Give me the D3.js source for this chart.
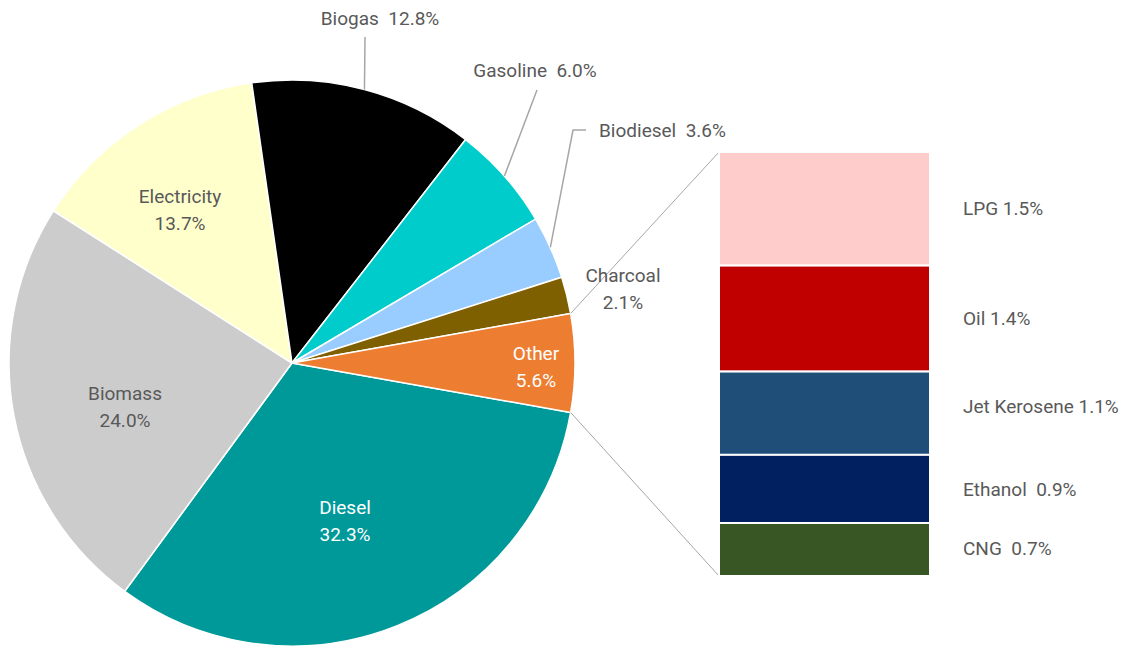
<!DOCTYPE html>
<html>
<head>
<meta charset="utf-8">
<script src="https://cdn.jsdelivr.net/npm/d3@7"></script>
<style>
  html, body { margin: 0; padding: 0; background: #ffffff; }
  svg { display: block; font-family: Roboto, "Liberation Sans", sans-serif; }
  text { white-space: pre; }
</style>
</head>
<body>
<svg id="chart" width="1129" height="647"></svg>
<script>
// Main pie: fuel shares (%), clockwise starting with Diesel
const pieNames  = ["Diesel", "Biomass", "Electricity", "Biogas", "Gasoline", "Biodiesel", "Charcoal", "Other"];
const pieValues = [32.3, 24.0, 13.7, 12.8, 6.0, 3.6, 2.1, 5.6];
const pieColors = ["#009999", "#cccccc", "#ffffcc", "#000000", "#00cccc", "#99ccff", "#7f6000", "#ed7d31"];

// Breakdown of "Other" shown as a stacked bar (top to bottom)
const barNames  = ["LPG", "Oil", "Jet Kerosene", "Ethanol", "CNG"];
const barValues = [1.5, 1.4, 1.1, 0.9, 0.7];
const barColors = ["#ffcccc", "#c00000", "#1f4e79", "#002060", "#375623"];
const barLabels = ["LPG 1.5%", "Oil 1.4%", "Jet Kerosene 1.1%", "Ethanol  0.9%", "CNG  0.7%"];

const svg = d3.select("#chart");
const textColor = "#595959";
const fontSize = 19;

// ---- Pie ----
const cx = 292, cy = 363, R = 283;
const total = d3.sum(pieValues);
const otherIdx = pieNames.indexOf("Other");
// rotate so the "Other" slice is centred on the horizontal, facing the bar
const before = d3.sum(pieValues.slice(0, otherIdx));
const otherMidFrac = (before + pieValues[otherIdx] / 2) / total;
const a0 = Math.PI / 2 - otherMidFrac * 2 * Math.PI;

const pieData = pieNames.map((n, i) => ({ name: n, value: pieValues[i], color: pieColors[i] }));
const arcs = d3.pie().sort(null).value(d => d.value)
  .startAngle(a0).endAngle(a0 + 2 * Math.PI)(pieData);
const arc = d3.arc().innerRadius(0).outerRadius(R);

const gPie = svg.append("g").attr("transform", `translate(${cx},${cy})`);
gPie.selectAll("path").data(arcs).join("path")
  .attr("d", arc)
  .attr("fill", d => d.data.color)
  .attr("stroke", "#ffffff")
  .attr("stroke-width", 1.5)
  .attr("stroke-linejoin", "round");

const polar = (a, r) => [cx + r * Math.sin(a), cy - r * Math.cos(a)];

// ---- Stacked bar for "Other" ----
const barX0 = 719, barX1 = 930, barTop = 152, barBottom = 576;
const y = d3.scaleLinear().domain([0, d3.sum(barValues)]).range([barTop, barBottom]);
const cum = d3.cumsum(barValues);
const barData = barNames.map((n, i) => ({
  name: n, label: barLabels[i], color: barColors[i],
  y0: cum[i] - barValues[i], y1: cum[i]
}));

// connector lines from the "Other" slice edges to the bar corners
const otherArc = arcs[otherIdx];
const pTop = polar(otherArc.startAngle, R);
const pBot = polar(otherArc.endAngle, R);
svg.append("line")
  .attr("x1", pTop[0]).attr("y1", pTop[1]).attr("x2", barX0).attr("y2", y(0))
  .attr("stroke", "#a6a6a6").attr("stroke-width", 1);
svg.append("line")
  .attr("x1", pBot[0]).attr("y1", pBot[1]).attr("x2", barX0).attr("y2", y(d3.sum(barValues)))
  .attr("stroke", "#a6a6a6").attr("stroke-width", 1);

svg.append("g").selectAll("rect").data(barData).join("rect")
  .attr("x", barX0)
  .attr("y", d => y(d.y0))
  .attr("width", barX1 - barX0)
  .attr("height", d => y(d.y1) - y(d.y0))
  .attr("fill", d => d.color)
  .attr("stroke", "#ffffff")
  .attr("stroke-width", 2);

// Jet Kerosene's label sits a little above its segment centre
const barLabelShift = [0, 0, -7, 0, -1];
svg.append("g").selectAll("text").data(barData).join("text")
  .attr("x", 963)
  .attr("y", (d, i) => (y(d.y0) + y(d.y1)) / 2 + barLabelShift[i])
  .attr("dy", "0.35em")
  .attr("fill", textColor)
  .attr("font-size", fontSize)
  .text(d => d.label);

// ---- Pie labels ----
const fmt = v => v.toFixed(1) + "%";
const byName = Object.fromEntries(arcs.map(a => [a.data.name, a]));

// labels placed inside (or just beside) their slices: name over value
const innerLabelPos = {
  "Electricity": [180, 196, textColor],
  "Biomass":     [125, 393, textColor],
  "Diesel":      [345, 507, "#ffffff"],
  "Other":       [536, 353, "#ffffff"],
  "Charcoal":    [623, 275, textColor]
};
Object.entries(innerLabelPos).forEach(([name, [lx, ly, col]]) => {
  const t = svg.append("text")
    .attr("text-anchor", "middle")
    .attr("fill", col)
    .attr("font-size", fontSize);
  t.append("tspan").attr("x", lx).attr("y", ly).attr("dy", "0.35em").text(name);
  t.append("tspan").attr("x", lx).attr("y", ly + 27).attr("dy", "0.35em").text(fmt(byName[name].data.value));
});

// labels outside the pie, joined with leader lines
const leaderColor = "#a6a6a6";
const outerLabels = [
  { name: "Biogas",    tx: 380, ty: 18,  anchor: "middle", bend: [[365, 37]] },
  { name: "Gasoline",  tx: 535, ty: 70,  anchor: "middle", bend: [[537, 90]] },
  { name: "Biodiesel", tx: 599, ty: 130, anchor: "start",  bend: [[573, 130], [586, 130]] }
];
outerLabels.forEach(o => {
  const a = byName[o.name];
  const mid = (a.startAngle + a.endAngle) / 2;
  const pts = [polar(mid, R), ...o.bend];
  svg.append("path")
    .attr("d", d3.line()(pts))
    .attr("fill", "none")
    .attr("stroke", leaderColor)
    .attr("stroke-width", 1.5);
  svg.append("text")
    .attr("x", o.tx).attr("y", o.ty).attr("dy", "0.35em")
    .attr("text-anchor", o.anchor)
    .attr("fill", textColor)
    .attr("font-size", fontSize)
    .text(o.name + "  " + fmt(a.data.value));
});
</script>
</body>
</html>
